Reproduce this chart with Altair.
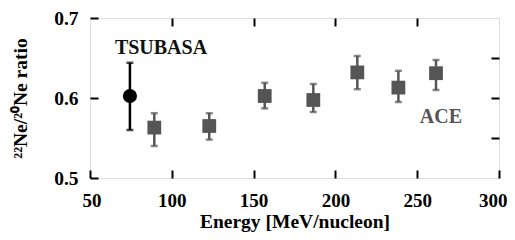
import altair as alt
import pandas as pd

ace_energy = [89.3, 122.9, 156.8, 186.5, 213.4, 238.5, 261.5]
ace_ratio = [0.563, 0.565, 0.6025, 0.5975, 0.632, 0.613, 0.631]
ace_lo = [0.540, 0.548, 0.587, 0.5825, 0.611, 0.595, 0.610]
ace_hi = [0.581, 0.581, 0.619, 0.6175, 0.6525, 0.634, 0.6475]

tsu_energy = [74.4]
tsu_ratio = [0.6025]
tsu_lo = [0.560]
tsu_hi = [0.644]

labels = ["TSUBASA", "ACE"]
label_x = [93.4, 264.5]
label_y = [0.663, 0.576]

ace = pd.DataFrame({"e": ace_energy, "r": ace_ratio, "lo": ace_lo, "hi": ace_hi})
tsu = pd.DataFrame({"e": tsu_energy, "r": tsu_ratio, "lo": tsu_lo, "hi": tsu_hi})
lab = pd.DataFrame({"t": labels, "x": label_x, "y": label_y, "c": ["#111111", "#555555"]})

FONT = "Liberation Serif"
GRAY = "#555555"

xs = alt.Scale(domain=[50, 300], nice=False, zero=False)
ys = alt.Scale(domain=[0.5, 0.7], nice=False, zero=False)

x_bottom = alt.Axis(orient="bottom", values=[50, 100, 150, 200, 250, 300], offset=-8,
                    tickSize=8, tickWidth=2, tickColor="black", domain=False, grid=False,
                    labelFont=FONT, labelFontSize=19, labelFontWeight="bold", labelColor="black",
                    labelPadding=13, labelFlush=True, labelFlushOffset=8,
                    title="Energy [MeV/nucleon]", titleFont=FONT, titleFontSize=19.5,
                    titleFontWeight="bold", titleColor="black", titlePadding=2)
y_left = alt.Axis(orient="left", values=[0.5, 0.55, 0.6, 0.65, 0.7], offset=-8,
                  tickSize=8, tickWidth=2, tickColor="black", domain=False, grid=False,
                  labelExpr="round(datum.value*100) % 10 == 0 ? format(datum.value, '.1f') : ''",
                  labelFont=FONT, labelFontSize=19.5, labelFontWeight="bold", labelColor="black",
                  labelPadding=12, labelFlush=False,
                  title="²²Ne/²⁰Ne ratio", titleFont=FONT, titleFontSize=19.5,
                  titleFontWeight="bold", titleColor="black", titlePadding=23)
x_top = alt.Axis(orient="top", values=[100, 150, 200, 250], offset=-8, tickSize=8,
                 tickWidth=2, tickColor="black", domain=False, grid=False, labels=False, title=None)
y_right = alt.Axis(orient="right", values=[0.55, 0.6, 0.65], offset=-8, tickSize=8,
                   tickWidth=2, tickColor="black", domain=False, grid=False, labels=False, title=None)

# ACE layer (bottom/left axes)
ace_rule = alt.Chart(ace).mark_rule(color=GRAY, strokeWidth=2.5).encode(
    x=alt.X("e:Q", scale=xs, axis=x_bottom),
    y=alt.Y("lo:Q", scale=ys, axis=y_left),
    y2="hi:Q",
)
ace_cap_lo = alt.Chart(ace).mark_tick(color=GRAY, orient="horizontal", size=7, thickness=2.5).encode(
    x=alt.X("e:Q", scale=xs), y=alt.Y("lo:Q", scale=ys))
ace_cap_hi = alt.Chart(ace).mark_tick(color=GRAY, orient="horizontal", size=7, thickness=2.5).encode(
    x=alt.X("e:Q", scale=xs), y=alt.Y("hi:Q", scale=ys))
ace_pt = alt.Chart(ace).mark_point(shape="square", filled=True, size=190, color=GRAY, opacity=1).encode(
    x=alt.X("e:Q", scale=xs), y=alt.Y("r:Q", scale=ys))

base = alt.layer(ace_rule, ace_cap_lo, ace_cap_hi, ace_pt)

# TSUBASA layer (top/right axes)
tsu_rule = alt.Chart(tsu).mark_rule(color="black", strokeWidth=2.5).encode(
    x=alt.X("e:Q", scale=xs, axis=x_top),
    y=alt.Y("lo:Q", scale=ys, axis=y_right),
    y2="hi:Q",
)
tsu_cap_lo = alt.Chart(tsu).mark_tick(color="black", orient="horizontal", size=7, thickness=2.5).encode(
    x=alt.X("e:Q", scale=xs), y=alt.Y("lo:Q", scale=ys))
tsu_cap_hi = alt.Chart(tsu).mark_tick(color="black", orient="horizontal", size=7, thickness=2.5).encode(
    x=alt.X("e:Q", scale=xs), y=alt.Y("hi:Q", scale=ys))
tsu_pt = alt.Chart(tsu).mark_point(shape="circle", filled=True, size=200, color="black", opacity=1).encode(
    x=alt.X("e:Q", scale=xs), y=alt.Y("r:Q", scale=ys))
txt = alt.Chart(lab).mark_text(font=FONT, fontSize=20, fontWeight="bold", baseline="middle",
                               align="center").encode(
    x=alt.X("x:Q", scale=xs), y=alt.Y("y:Q", scale=ys),
    text="t:N", color=alt.Color("c:N", scale=None))

top = alt.layer(tsu_rule, tsu_cap_lo, tsu_cap_hi, tsu_pt, txt)

chart = alt.layer(base, top).resolve_axis(x="independent", y="independent").properties(
    width=409, height=160,
    autosize=alt.AutoSizeParams(type="none"),
    padding={"left": 82, "top": 10, "right": 8, "bottom": 54},
).configure_view(stroke="black", strokeWidth=2.5).configure(background="white")

chart.save("out.html", embed_options={"renderer": "svg", "actions": False})
